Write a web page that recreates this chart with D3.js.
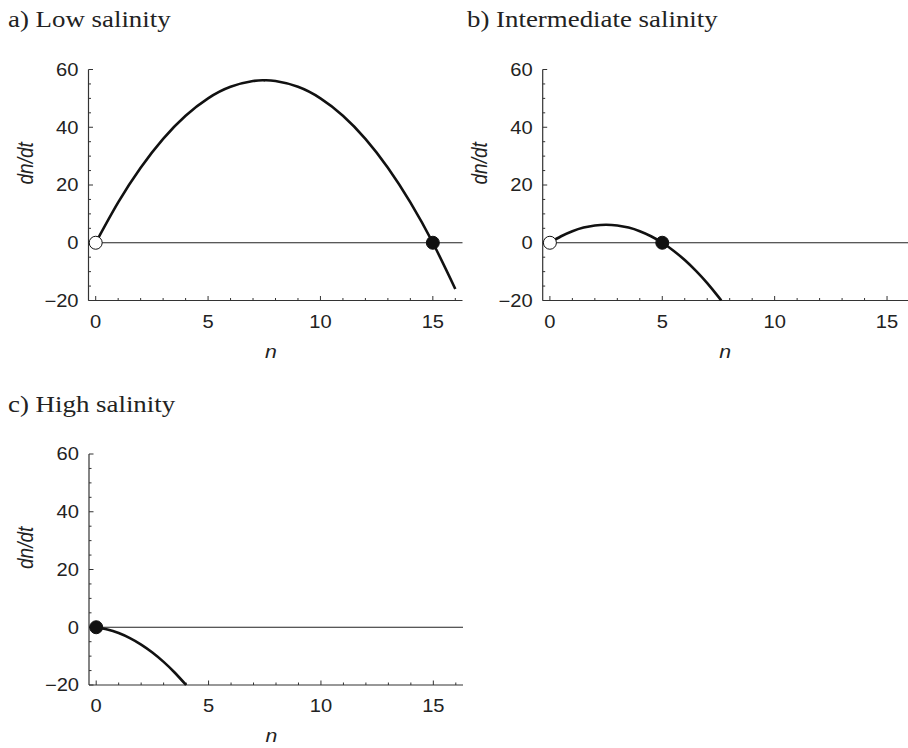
<!DOCTYPE html>
<html><head><meta charset="utf-8">
<script src="https://cdn.jsdelivr.net/npm/d3@7"></script>
<style>
body{margin:0;background:#fff;}
svg{display:block;}
</style></head>
<body>
<svg id="c" width="908" height="748"></svg>
<script>
// Data
const titles = ["a) Low salinity", "b) Intermediate salinity", "c) High salinity"];
const xTicks = [0, 5, 10, 15];
const yTicks = [-20, 0, 20, 40, 60];
const xMinor = d3.range(0, 17, 1);
const yMinor = d3.range(-20, 61, 5);

const nA = [0,1,2,3,4,5,6,7,7.5,8,9,10,11,12,13,14,15,16];
const vA = [0,14,26,36,44,50,54,56,56.25,56,54,50,44,36,26,14,0,-16];
const nB = [0,0.5,1,1.5,2,2.5,3,3.5,4,4.5,5,5.5,6,6.5,7,7.5,7.62];
const vB = [0,2.25,4,5.25,6,6.25,6,5.25,4,2.25,0,-2.75,-6,-9.75,-14,-18.75,-20];
const nC = [0,0.5,1,1.5,2,2.5,3,3.5,4];
const vC = [0,-0.75,-2,-3.75,-6,-8.75,-12,-15.75,-20];

// equilibrium points: [n, value, stable?]
const eqA = [[0,0,false],[15,0,true]];
const eqB = [[0,0,false],[5,0,true]];
const eqC = [[0,0,true]];

const panels = [
  {title: titles[0], tx: 8, ty: 27, left: 88.5, top: 69.5, n: nA, v: vA, eq: eqA},
  {title: titles[1], tx: 467, ty: 27, left: 542.7, top: 69.5, n: nB, v: vB, eq: eqB},
  {title: titles[2], tx: 8, ty: 412, left: 89, top: 454, n: nC, v: vC, eq: eqC}
];

const W = 374, H = 231;
const x = d3.scaleLinear().domain([-0.32, 16.32]).range([0, W]);
const y = d3.scaleLinear().domain([-20, 60]).range([H, 0]);

const svg = d3.select("#c");
const axisCol = "#333";
const SANS = "Liberation Sans, Arial, sans-serif";

// text helper with horizontal stretch like the reference
function stext(parent, tx, ty, str, opts) {
  const g = parent.append("g").attr("transform", `translate(${tx},${ty}) ${opts.rot ? "rotate(" + opts.rot + ")" : ""} scale(${opts.sx || 1},${opts.sy || 1})`);
  const t = g.append("text").attr("x", 0).attr("y", 0)
    .attr("font-family", opts.family || SANS).attr("font-size", opts.size)
    .attr("fill", "#222").attr("text-anchor", opts.anchor || "start").text(str);
  if (opts.dy) t.attr("dy", opts.dy);
  if (opts.italic) t.attr("font-style", "italic");
  return t;
}

panels.forEach(p => {
  stext(svg, p.tx, p.ty, p.title, {family: "Liberation Serif, Times New Roman, serif", size: 24, sx: 1.12});

  const g = svg.append("g").attr("transform", `translate(${p.left},${p.top})`);

  // zero line
  g.append("line").attr("x1", 0).attr("x2", W).attr("y1", y(0)).attr("y2", y(0))
    .attr("stroke", "#222").attr("stroke-width", 1);

  // x axis
  const xa = g.append("g").attr("transform", `translate(0,${H})`);
  xa.append("line").attr("x1", 0).attr("x2", W).attr("stroke", axisCol).attr("stroke-width", 1.2);
  xa.selectAll(".mn").data(xMinor).join("line")
    .attr("x1", d => x(d)).attr("x2", d => x(d)).attr("y1", 0)
    .attr("y2", d => xTicks.includes(d) ? -4.5 : -2.5)
    .attr("stroke", axisCol).attr("stroke-width", 1);
  xTicks.forEach(d => stext(xa, x(d), 27, d, {size: 17.5, sx: 1.15, anchor: "middle"}));

  // y axis
  const ya = g.append("g");
  ya.append("line").attr("y1", 0).attr("y2", H).attr("stroke", axisCol).attr("stroke-width", 1.2);
  ya.selectAll(".mn").data(yMinor).join("line")
    .attr("y1", d => y(d)).attr("y2", d => y(d)).attr("x1", 0)
    .attr("x2", d => yTicks.includes(d) ? 4.5 : 2.5)
    .attr("stroke", axisCol).attr("stroke-width", 1);
  yTicks.forEach(d => stext(ya, -10, y(d), d < 0 ? "\u2212" + Math.abs(d) : String(d),
    {size: 17.5, sx: 1.15, anchor: "end", dy: "0.36em"}));

  // axis labels
  stext(g, x(7.8), H + 57, "n", {size: 19, sx: 1.12, anchor: "middle", italic: true});
  stext(g, -56, y(27.5), "dn/dt", {size: 19, sy: 1.12, anchor: "middle", italic: true, rot: -90});

  // curve
  const pts = p.n.map((d, i) => [d, p.v[i]]);
  g.append("path").datum(pts)
    .attr("d", d3.line().x(d => x(d[0])).y(d => y(d[1])).curve(d3.curveNatural))
    .attr("fill", "none").attr("stroke", "#111").attr("stroke-width", 2.6);

  // equilibria
  g.selectAll(".eq").data(p.eq).join("circle")
    .attr("cx", d => x(d[0])).attr("cy", d => y(d[1])).attr("r", 6.5)
    .attr("fill", d => d[2] ? "#111" : "#fff")
    .attr("stroke", "#111").attr("stroke-width", 1);
});
</script>
</body></html>
